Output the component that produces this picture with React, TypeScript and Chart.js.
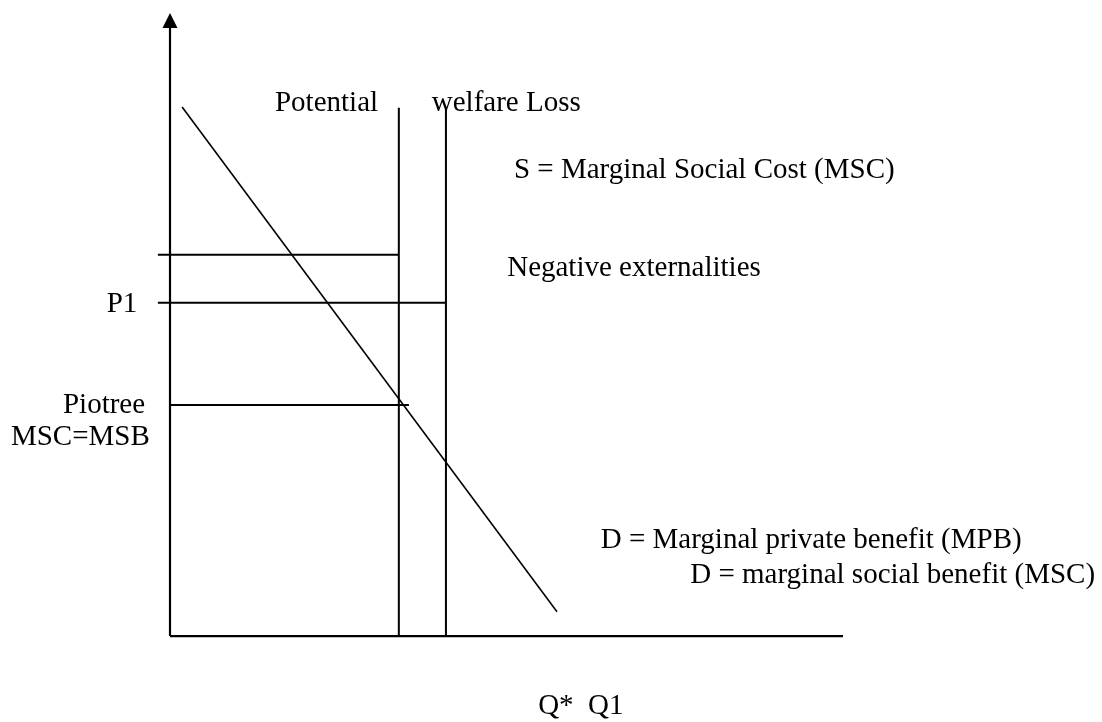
import React, { useEffect, useRef } from "react";
import { Chart, registerables } from "chart.js";

Chart.register(...registerables);

// ---- data (chart units: quantity 0..100 along the x axis, price 0..100 along the y axis)
const demandQ = [1.8, 57.5];
const demandP = [84.9, 3.9];

const quantityMarks = [34, 41]; // Q*, Q1
const quantityMarkTops = [84.8, 84.6];

const priceLevels = [61.2, 53.5, 37.1]; // upper price, P1, Piotree
const priceLineStarts = [-1.8, -1.8, 0];
const priceLineEnds = [34, 41, 35.5];

const labelTexts = [
  "Potential",
  "welfare Loss",
  "S = Marginal Social Cost (MSC)",
  "Negative externalities",
  "P1",
  "Piotree",
  "MSC=MSB",
  "D = Marginal private benefit (MPB)",
  "D = marginal social benefit (MSC)",
  "Q*  Q1",
];

// ---- placement of the text labels (data units) and alignment
const labelPlacement: { x: number; y: number; align: CanvasTextAlign }[] = [
  { x: 15.6, y: 84.3, align: "left" },
  { x: 38.9, y: 84.3, align: "left" },
  { x: 51.1, y: 73.5, align: "left" },
  { x: 50.1, y: 57.8, align: "left" },
  { x: -9.4, y: 52.0, align: "left" },
  { x: -3.7, y: 35.8, align: "right" },
  { x: -3.0, y: 30.6, align: "right" },
  { x: 64.0, y: 14.1, align: "left" },
  { x: 77.3, y: 8.5, align: "left" },
  { x: 54.7, y: -12.5, align: "left" },
];

const W = 1102;
const H = 722;
const X_MIN = -25.26;
const X_MAX = 138.48;
const Y_MIN = -13.8;
const Y_MAX = 102.09;

const lineDs = (pts: { x: number; y: number }[], width: number) => ({
  type: "line" as const,
  data: pts,
  borderColor: "#000",
  borderWidth: width,
  pointRadius: 0,
  showLine: true,
  fill: false,
  tension: 0,
  clip: false as const,
});

const diagramPlugin = {
  id: "diagram",
  beforeDatasetsDraw(chart: any) {
    const { ctx, scales } = chart;
    const xs = scales.x;
    const ys = scales.y;
    const x0 = xs.getPixelForValue(0);
    const y0 = ys.getPixelForValue(0);
    const xEnd = xs.getPixelForValue(100);
    const yTop = ys.getPixelForValue(100);
    ctx.save();
    ctx.strokeStyle = "#000";
    ctx.fillStyle = "#000";
    ctx.lineWidth = 2.2;
    ctx.beginPath();
    ctx.moveTo(x0, y0);
    ctx.lineTo(xEnd, y0);
    ctx.moveTo(x0, y0);
    ctx.lineTo(x0, yTop + 12);
    ctx.stroke();
    ctx.beginPath();
    ctx.moveTo(x0, yTop);
    ctx.lineTo(x0 - 7.5, yTop + 15);
    ctx.lineTo(x0 + 7.5, yTop + 15);
    ctx.closePath();
    ctx.fill();
    ctx.restore();
  },
  afterDatasetsDraw(chart: any) {
    const { ctx, scales } = chart;
    ctx.save();
    ctx.fillStyle = "#000";
    ctx.font = '29px "Liberation Serif", "Times New Roman", serif';
    ctx.textBaseline = "alphabetic";
    labelTexts.forEach((t, i) => {
      const p = labelPlacement[i];
      ctx.textAlign = p.align;
      ctx.fillText(t, scales.x.getPixelForValue(p.x), scales.y.getPixelForValue(p.y));
    });
    ctx.restore();
  },
};

export default function App() {
  const ref = useRef<HTMLCanvasElement | null>(null);

  useEffect(() => {
    if (!ref.current) return;
    const datasets: any[] = [];
    datasets.push(
      lineDs(
        demandQ.map((q, i) => ({ x: q, y: demandP[i] })),
        1.6
      )
    );
    quantityMarks.forEach((q, i) => {
      datasets.push(
        lineDs(
          [
            { x: q, y: 0 },
            { x: q, y: quantityMarkTops[i] },
          ],
          2
        )
      );
    });
    priceLevels.forEach((p, i) => {
      datasets.push(
        lineDs(
          [
            { x: priceLineStarts[i], y: p },
            { x: priceLineEnds[i], y: p },
          ],
          2
        )
      );
    });

    const chart = new Chart(ref.current, {
      type: "scatter",
      data: { datasets },
      options: {
        animation: false,
        responsive: false,
        maintainAspectRatio: false,
        devicePixelRatio: 1,
        layout: { padding: 0 },
        plugins: {
          legend: { display: false },
          tooltip: { enabled: false },
          title: { display: false },
        },
        events: [],
        scales: {
          x: { type: "linear", min: X_MIN, max: X_MAX, display: false },
          y: { type: "linear", min: Y_MIN, max: Y_MAX, display: false },
        },
      },
      plugins: [diagramPlugin],
    });
    return () => chart.destroy();
  }, []);

  return (
    <div
      style={{
        position: "absolute",
        left: 0,
        top: 0,
        width: W,
        height: H,
        background: "#fff",
      }}
    >
      <canvas ref={ref} width={W} height={H} style={{ width: W, height: H }} />
    </div>
  );
}
